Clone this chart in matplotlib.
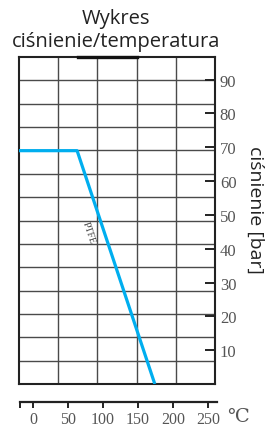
import matplotlib as mpl; mpl.use("Agg")
import matplotlib.pyplot as plt
import numpy as np

# PTFE pressure/temperature curve
temp = [-20, 63, 174]          # degC
press = [69, 69, 0]            # bar
t_ticks = [0, 50, 100, 150, 200, 250]
p_ticks = [10, 20, 30, 40, 50, 60, 70, 80, 90]

W, H = 269, 427
fig = plt.figure(figsize=(W/100, H/100), dpi=100)
fig.patch.set_facecolor("white")

def box(l, r, t, b):
    return [l/W, 1-b/H, (r-l)/W, (b-t)/H]

XL, YL = (-20, 260), (0, 96.7)
ax = fig.add_axes(box(19, 215, 58, 385))
ax.set_xlim(*XL); ax.set_ylim(*YL)
# grid is its own 5x14 lattice, not tied to the scales
ax.set_xticks(np.linspace(*XL, 6)[1:-1]); ax.set_yticks(np.linspace(*YL, 15)[1:-1])
ax.tick_params(length=0, labelbottom=False, labelleft=False)
ax.grid(True, color="#4a4a4a", lw=1.0)
for s in ax.spines.values():
    s.set_color("#222"); s.set_linewidth(1.5)
ax.plot([64, 149], [YL[1], YL[1]], color="#111", lw=2.4, clip_on=False, zorder=5)

ax.plot(temp, press, color="#00aeef", lw=2.3, zorder=4, solid_capstyle="butt")
ax.text(80, 45, "PTFE", rotation=-71.5, rotation_mode="anchor", ha="center", va="center",
        fontsize=7, family="Liberation Serif", color="#444")

# right pressure ticks (inward)
ay = ax.twinx()
ay.set_ylim(*YL)
ay.set_yticks(p_ticks)
ay.tick_params(direction="in", length=7.2, width=1.4, color="#222", pad=3.5,
               labelsize=12, labelcolor="#555")
for lab in ay.get_yticklabels(): lab.set_family("Liberation Serif")
for s in ay.spines.values(): s.set_visible(False)

# separate temperature scale below
bx = fig.add_axes(box(20, 217, 403, 403))
bx.set_xlim(-18.6, 262.9)
bx.set_yticks([])
for k in ("top", "left", "right"): bx.spines[k].set_visible(False)
bx.spines["bottom"].set_linewidth(1.6); bx.spines["bottom"].set_color("#222")
bx.set_xticks(t_ticks + [-18.6])
bx.set_xticklabels([str(t) for t in t_ticks] + [""])
bx.tick_params(axis="x", direction="out", length=4, width=1.4, color="#222", pad=2.5,
               labelsize=11.5, labelcolor="#555")
for lab in bx.get_xticklabels(): lab.set_family("Liberation Serif")
fig.text(238/W, 1-418/H, "℃", ha="center", va="center", fontsize=14,
         family=["Liberation Serif", "DejaVu Serif"], color="#555")

fig.text(116/W, 1-19/H, "Wykres", ha="center", va="center", fontsize=14.5,
         family="Open Sans", color="#222")
fig.text(116/W, 1-42/H, "ciśnienie/temperatura", ha="center", va="center", fontsize=14.5,
         family="Open Sans", color="#222")
fig.text(255/W, 1-210/H, "ciśnienie [bar]", ha="center", va="center", rotation=270,
         fontsize=14, family="Open Sans", color="#222")

fig.savefig("out.png", dpi=100)
